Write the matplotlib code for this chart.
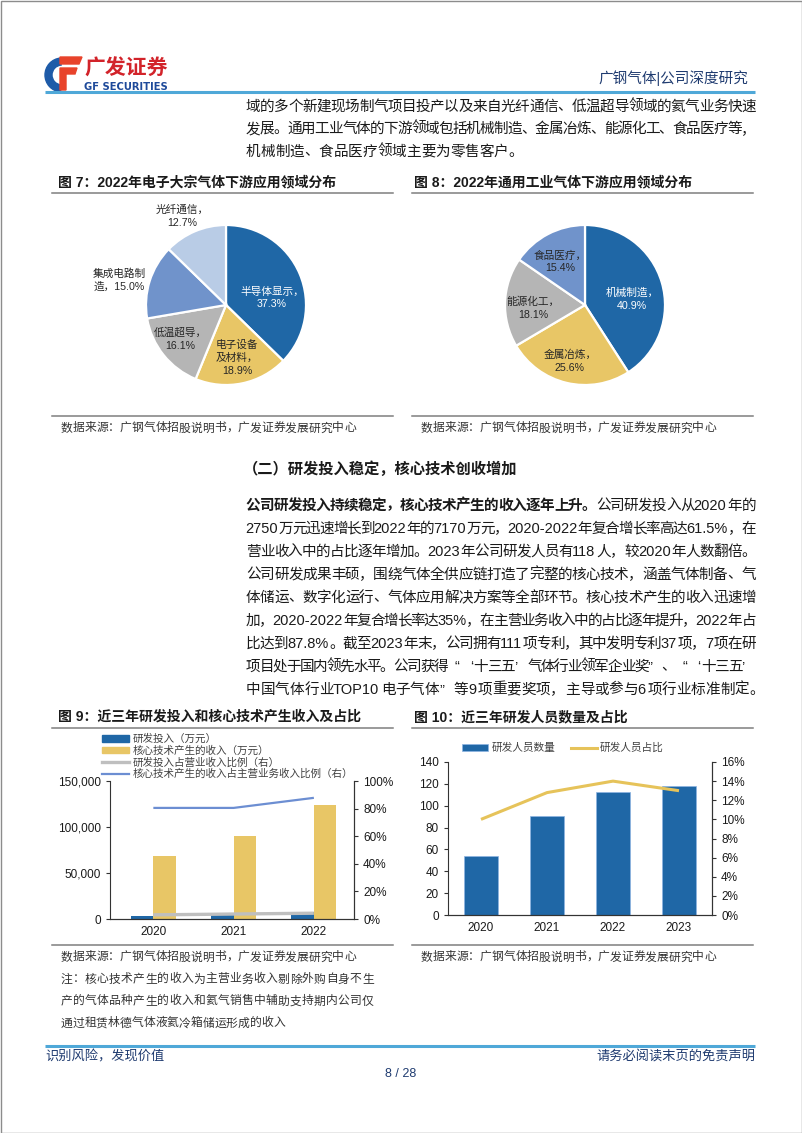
import matplotlib
matplotlib.use('Agg')
import matplotlib.pyplot as plt
from matplotlib.patches import Wedge, Polygon, Rectangle, Patch
from matplotlib.lines import Line2D
from matplotlib.ticker import FuncFormatter, MultipleLocator

MIX = ['Liberation Sans', 'Noto Sans CJK SC']
plt.rcParams['font.family'] = MIX

# ---- data ----
pie7_labels = ['半导体显示，\n', '电子设备\n及材料，\n', '低温超导，\n', '集成电路制\n造，', '光纤通信，\n']
pie7_values = [37.3, 18.9, 16.1, 15.0, 12.7]

pie8_labels = ['机械制造，\n', '金属冶炼，\n', '能源化工，\n', '食品医疗，\n']
pie8_values = [40.9, 25.6, 18.1, 15.4]

years9 = ['2020', '2021', '2022']
rd_invest = [2750, 4600, 7170]          # 研发投入（万元）
core_rev = [68000, 90000, 123600]       # 核心技术产生的收入（万元）
rd_ratio = [0.030, 0.036, 0.042]        # 研发投入占营业收入比例
core_ratio = [0.805, 0.805, 0.878]      # 核心技术收入占主营业务收入比例

years10 = ['2020', '2021', '2022', '2023']
rd_staff = [54, 91, 113, 118]
staff_ratio = [0.100, 0.128, 0.140, 0.130]

# ---- styles ----
DBLUE = '#1F67A6'
YELLOW = '#E8C666'
GRAY = '#B5B5B5'
MBLUE = '#7093CB'
LBLUE = '#B9CCE6'
NAVY = '#1F3B70'
TXT = '#1a1a1a'

W, H = 802, 1133
fig = plt.figure(figsize=(W / 100, H / 100), dpi=100)
renderer = fig.canvas.get_renderer()


def rect(l, t, r, b):
    return [l / W, 1 - b / H, (r - l) / W, (b - t) / H]


page = fig.add_axes([0, 0, 1, 1])
page.set_xlim(0, W)
page.set_ylim(H, 0)
page.axis('off')

# page border
page.add_patch(Rectangle((0.5, 0.5), W - 1, H - 1, fill=False, edgecolor='#8c8c8c', lw=1))

OPEN_Q = '“‘'


def put_line(segs, x0, x1, yc, size, justify=True, color=TXT):
    # place one line char by char, cjk chars take one em, ascii runs measured
    em = size * 100 / 72.0
    toks = []
    for s, wt in segs:
        run = ''
        for ch in s:
            if ord(ch) < 128:
                run += ch
            else:
                if run:
                    toks.append((run, wt, False))
                    run = ''
                toks.append((ch, wt, True))
        if run:
            toks.append((run, wt, False))
    yb = yc + 0.38 * em
    arts, widths = [], []
    for t, wt, cjk in toks:
        a = page.text(0, yb, t, fontsize=size, weight=wt, color=color, va='baseline', ha='left')
        arts.append(a)
        if cjk:
            widths.append(em)
        else:
            widths.append(a.get_window_extent(renderer).width + 0.08 * em)
    gap = 0
    if justify and len(arts) > 1:
        gap = (x1 - x0 - sum(widths)) / (len(arts) - 1)
    x = x0
    for a, w, (t, wt, cjk) in zip(arts, widths, toks):
        if t in OPEN_Q:
            a.set_x(x + 0.94 * em)
            a.set_ha('right')
        else:
            a.set_x(x + (0.06 * em if cjk else 0.04 * em))
        x += w + gap


# ---- header ----
page.add_patch(Wedge((62, 75), 17, 95, 265, width=7, color='#1E5BA8'))
page.add_patch(Polygon([[60, 57], [82, 57], [79, 64], [60, 64]], color='#E8432B'))
page.add_patch(Polygon([[60, 68], [77, 68], [75, 74], [66, 74], [66, 90], [60, 90]], color='#E8432B'))
page.text(84, 68, '广发证券', fontsize=15, weight='bold', color='#D2232A', va='center', family='Noto Sans CJK SC')
page.text(84, 87, 'GF SECURITIES', fontsize=7.2, weight='bold', color='#1E4A9A', va='center', family='DejaVu Sans')
page.text(748, 78, '广钢气体|公司深度研究', fontsize=10.5, color=NAVY, va='center', ha='right')
page.plot([45, 755], [92, 92], color='#4FA8D8', lw=2.2, solid_capstyle='butt')

top_lines = ['域的多个新建现场制气项目投产以及来自光纤通信、低温超导领域的氦气业务快速',
             '发展。通用工业气体的下游领域包括机械制造、金属冶炼、能源化工、食品医疗等，',
             '机械制造、食品医疗领域主要为零售客户。']
for i, s in enumerate(top_lines):
    put_line([(s, 'normal')], 245, 755, 105 + 22.5 * i, 10.5, justify=(i < 2))

# ---- figure titles / rules ----
for x0, x1, tx, yt, t in [(52, 393, 58, 182, '图 7：2022年电子大宗气体下游应用领域分布'),
                          (412, 753, 414, 182, '图 8：2022年通用工业气体下游应用领域分布'),
                          (52, 393, 58, 717, '图 9：近三年研发投入和核心技术产生收入及占比'),
                          (412, 753, 414, 717, '图 10：近三年研发人员数量及占比')]:
    page.text(tx, yt, t, fontsize=10, weight='bold', color=TXT, va='center')
    page.plot([x0, x1], [yt + 11, yt + 11], color='#7f7f7f', lw=1.1)

src = '数据来源：广钢气体招股说明书，广发证券发展研究中心'
for x0, x1, ys in [(52, 393, 416), (412, 753, 416), (52, 393, 945), (412, 753, 945)]:
    page.plot([x0, x1], [ys, ys], color='#7f7f7f', lw=1.1)
    put_line([(src, 'normal')], x0 + 8, x1, ys + 11, 8.5, justify=False, color='#333333')

notes = ['注：核心技术产生的收入为主营业务收入剔除外购自身不生',
         '产的气体品种产生的收入和氦气销售中辅助支持期内公司仅',
         '通过租赁林德气体液氦冷箱储运形成的收入']
for i, s in enumerate(notes):
    put_line([(s, 'normal')], 60, 373, 978 + 22 * i, 8.5, justify=(i < 2), color='#333333')

# ---- section heading and paragraph ----
page.text(243, 469, '（二）研发投入稳定，核心技术创收增加', fontsize=11, weight='bold', color=TXT, va='center')

para = [
    [('公司研发投入持续稳定，核心技术产生的收入逐年上升。', 'bold'), ('公司研发投入从2020年的', 'normal')],
    [('2750万元迅速增长到2022年的7170万元，2020-2022年复合增长率高达61.5%，在', 'normal')],
    [('营业收入中的占比逐年增加。2023年公司研发人员有118人，较2020年人数翻倍。', 'normal')],
    [('公司研发成果丰硕，围绕气体全供应链打造了完整的核心技术，涵盖气体制备、气', 'normal')],
    [('体储运、数字化运行、气体应用解决方案等全部环节。核心技术产生的收入迅速增', 'normal')],
    [('加，2020-2022年复合增长率达35%，在主营业务收入中的占比逐年提升，2022年占', 'normal')],
    [('比达到87.8%。截至2023年末，公司拥有111项专利，其中发明专利37项，7项在研', 'normal')],
    [('项目处于国内领先水平。公司获得“‘十三五’气体行业领军企业奖”、“‘十三五’', 'normal')],
    [('中国气体行业TOP10电子气体”等9项重要奖项，主导或参与6项行业标准制定。', 'normal')],
]
for i, segs in enumerate(para):
    put_line(segs, 245, 755, 504 + 23 * i, 10.5, justify=(i < len(para) - 1))


# ---- pies ----
def draw_pie(cx, cy, values, labels, colors, lab_pos, lab_col):
    k = 1.7
    r = 80
    ax = fig.add_axes(rect(cx - r * k, cy - r * k, cx + r * k, cy + r * k))
    ax.pie(values, colors=colors, startangle=90, counterclock=False,
           wedgeprops=dict(edgecolor='white', linewidth=1.6))
    for lab, v, (dx, dy), c in zip(labels, values, lab_pos, lab_col):
        ax.text(dx, dy, lab + f'{v:.1f}%', ha='center', va='center', fontsize=7.7,
                color=c, linespacing=1.35, multialignment='center')
    ax.set_xlim(-k, k)
    ax.set_ylim(-k, k)
    ax.set_aspect('equal')
    ax.axis('off')
    ax.patch.set_alpha(0)


draw_pie(226, 305, pie7_values, pie7_labels, [DBLUE, YELLOW, GRAY, MBLUE, LBLUE],
         [(0.575, 0.09), (0.14, -0.66), (-0.575, -0.425), (-1.34, 0.31), (-0.55, 1.11)],
         ['white', '#262626', '#262626', '#262626', '#262626'])
draw_pie(585, 305, pie8_values, pie8_labels, [DBLUE, YELLOW, GRAY, MBLUE],
         [(0.59, 0.075), (-0.19, -0.70), (-0.65, -0.04), (-0.31, 0.54)],
         ['white', '#262626', '#262626', '#262626'])


def style_axis(ax):
    ax.spines['top'].set_visible(False)
    for s in ['left', 'right', 'bottom']:
        ax.spines[s].set_color('#333333')
        ax.spines[s].set_linewidth(0.8)
    ax.tick_params(axis='both', labelsize=8.5, colors='#333333', labelcolor='#1a1a1a', width=0.8, length=3)
    ax.tick_params(axis='x', length=0, pad=5)
    ax.patch.set_alpha(0)


# ---- figure 9 ----
ax9 = fig.add_axes(rect(110, 781, 354, 919))
x9 = list(range(len(years9)))
bw = 0.28
ax9.bar([i - bw / 2 for i in x9], rd_invest, width=bw, color=DBLUE, zorder=2)
ax9.bar([i + bw / 2 for i in x9], core_rev, width=bw, color=YELLOW, zorder=2)
ax9.set_xlim(-0.54, 2.5)
ax9.set_ylim(0, 150000)
ax9.yaxis.set_major_locator(MultipleLocator(50000))
ax9.yaxis.set_major_formatter(FuncFormatter(lambda v, p: f'{v:,.0f}'))
ax9.set_xticks(x9)
ax9.set_xticklabels(years9)
style_axis(ax9)
ax9r = ax9.twinx()
ax9r.plot(x9, rd_ratio, color='#BFBFBF', lw=2.4, solid_capstyle='butt')
ax9r.plot(x9, core_ratio, color='#6C8ED2', lw=1.6, solid_capstyle='butt')
ax9r.set_ylim(0, 1.0)
ax9r.yaxis.set_major_locator(MultipleLocator(0.2))
ax9r.yaxis.set_major_formatter(FuncFormatter(lambda v, p: f'{v * 100:.0f}%'))
style_axis(ax9r)
ax9r.spines['left'].set_visible(False)

h9 = [Patch(color=DBLUE), Patch(color=YELLOW),
      Line2D([], [], color='#BFBFBF', lw=2.4), Line2D([], [], color='#6C8ED2', lw=1.6)]
l9 = ['研发投入（万元）', '核心技术产生的收入（万元）', '研发投入占营业收入比例（右）', '核心技术产生的收入占主营业务收入比例（右）']
leg9 = ax9r.legend(h9, l9, loc='upper left', bbox_to_anchor=(102 / W, 1 - 734 / H), bbox_transform=fig.transFigure,
                   frameon=False, fontsize=7.6, handlelength=2.6, handleheight=0.55, labelspacing=0.12,
                   borderpad=0, borderaxespad=0, handletextpad=0.3)
for t in leg9.get_texts():
    t.set_color('#404040')

# ---- figure 10 ----
ax10 = fig.add_axes(rect(448, 762, 712, 915))
x10 = list(range(len(years10)))
ax10.bar(x10, rd_staff, width=0.52, color=DBLUE, edgecolor='#8DB4E2', linewidth=0.5, zorder=2)
ax10.set_xlim(-0.5, 3.5)
ax10.set_ylim(0, 140)
ax10.yaxis.set_major_locator(MultipleLocator(20))
ax10.set_xticks(x10)
ax10.set_xticklabels(years10)
style_axis(ax10)
ax10r = ax10.twinx()
ax10r.plot(x10, staff_ratio, color='#E6C35A', lw=2.2, solid_capstyle='butt')
ax10r.set_ylim(0, 0.16)
ax10r.yaxis.set_major_locator(MultipleLocator(0.02))
ax10r.yaxis.set_major_formatter(FuncFormatter(lambda v, p: f'{v * 100:.0f}%'))
style_axis(ax10r)
ax10r.spines['left'].set_visible(False)

h10 = [Patch(facecolor=DBLUE, edgecolor='#8DB4E2', linewidth=0.5), Line2D([], [], color='#E6C35A', lw=2.2)]
leg10 = ax10r.legend(h10, ['研发人员数量', '研发人员占比'], loc='center', ncol=2,
                     bbox_to_anchor=(563 / W, 1 - 748 / H), bbox_transform=fig.transFigure,
                     frameon=False, fontsize=7.7, handlelength=2.4, handleheight=0.55,
                     columnspacing=1.5, handletextpad=0.3, borderpad=0)
for t in leg10.get_texts():
    t.set_color('#404040')

# ---- footer ----
page.plot([45, 755], [1046, 1046], color='#4FA8D8', lw=2.2, solid_capstyle='butt')
page.text(45, 1057, '识别风险，发现价值', fontsize=9.5, color=NAVY, va='center')
page.text(755, 1057, '请务必阅读末页的免责声明', fontsize=9.5, color=NAVY, va='center', ha='right')
page.text(401, 1074, '8 / 28', fontsize=9, color=NAVY, va='center', ha='center')

fig.savefig('out.png', dpi=100)
